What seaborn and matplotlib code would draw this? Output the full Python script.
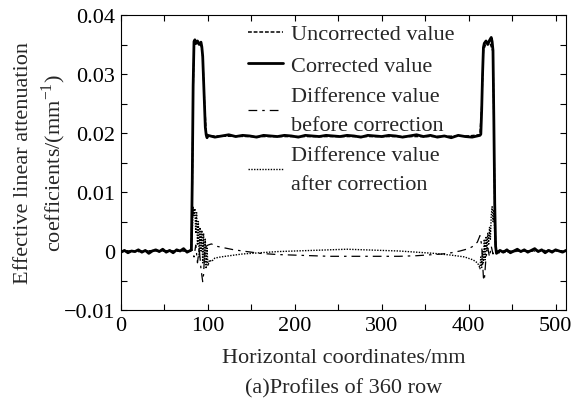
import numpy as np
import pandas as pd
import matplotlib
matplotlib.use("Agg")
import matplotlib.pyplot as plt
import seaborn as sns
from matplotlib.ticker import MultipleLocator

sns.set_style("ticks")
plt.rcParams['font.family'] = ['Liberation Serif', 'DejaVu Serif']
plt.rcParams['mathtext.fontset'] = 'custom'
plt.rcParams['mathtext.rm'] = 'Liberation Serif'

# ---------------- data ----------------
corr_x = [0, 4, 8, 12, 16, 20, 24, 28, 32, 36, 40, 44, 48, 52, 56, 60, 64, 68, 72, 76, 80,
          81, 82, 83, 84, 85, 86, 88, 90, 92, 93, 94, 95, 96, 97, 98, 99,
          100, 108, 116, 124, 132, 140, 148, 156, 164, 172, 180, 188, 196, 204, 212, 220,
          228, 236, 244, 252, 260, 268, 276, 284, 292, 300, 308, 316, 324, 332, 340, 348,
          356, 364, 372, 380, 388, 396, 404, 410,
          413, 414, 415, 416, 417, 418, 420, 422, 424, 426, 427, 428, 429, 430, 431, 432,
          436, 440, 444, 448, 452, 456, 460, 464, 468, 472, 476, 480, 484, 488, 492, 496,
          500, 504, 508, 512]
corr_y = [-0.0002, 0.0001, -0.0003, 0.0000, -0.0001, 0.0002, -0.0002, 0.0001, -0.0004, 0.0000,
          0.0002, -0.0001, 0.0003, -0.0002, 0.0001, -0.0003, 0.0002, 0.0000, 0.0004, -0.0002, 0.0001,
          0.0003, 0.0120, 0.0280, 0.0355, 0.0358, 0.0352, 0.0356, 0.0350, 0.0354, 0.0346,
          0.0330, 0.0290, 0.0250, 0.0210, 0.0197, 0.0192,
          0.0196, 0.0193, 0.0195, 0.0197, 0.0194, 0.0196, 0.0195, 0.0193, 0.0196, 0.0195,
          0.0194, 0.0196, 0.0195, 0.0193, 0.0196, 0.0195, 0.0194, 0.0196, 0.0195, 0.0194,
          0.0196, 0.0195, 0.0193, 0.0196, 0.0195, 0.0194, 0.0196, 0.0195, 0.0193, 0.0195,
          0.0197, 0.0194, 0.0196, 0.0193, 0.0195, 0.0192, 0.0196, 0.0194, 0.0193, 0.0195,
          0.0196, 0.0198, 0.0240, 0.0300, 0.0345, 0.0352, 0.0356, 0.0350, 0.0357, 0.0362,
          0.0355, 0.0340, 0.0220, 0.0080, 0.0008, -0.0004,
          0.0001, -0.0002, 0.0002, -0.0003, 0.0000, 0.0003, -0.0001, 0.0002, -0.0002, 0.0001,
          0.0004, -0.0001, 0.0002, -0.0003, 0.0001, -0.0002, 0.0002, 0.0000, -0.0002, 0.0001]

unc_x = [0, 20, 40, 60, 80, 81, 82, 83, 84, 88, 92, 94, 96, 98, 100, 150, 200, 250, 300,
         350, 400, 413, 415, 417, 420, 424, 428, 429, 430, 431, 432, 460, 490, 512]
unc_y = [0.0000, -0.0001, 0.0001, 0.0000, 0.0000, 0.0003, 0.0110, 0.0270, 0.0350, 0.0352,
         0.0350, 0.0330, 0.0255, 0.0200, 0.0195, 0.0194, 0.0194, 0.0194, 0.0194, 0.0194,
         0.0195, 0.0197, 0.0245, 0.0340, 0.0352, 0.0355, 0.0338, 0.0215, 0.0075, 0.0008,
         -0.0003, 0.0000, 0.0001, 0.0000]

dbef_x = [0, 80, 82, 84, 86, 88, 90, 92, 94, 95, 96, 98, 100, 104, 110, 120, 130, 140, 150,
          160, 180, 200, 220, 240, 260, 280, 300, 320, 340, 360, 370, 380, 390, 400, 405,
          410, 413, 415, 416, 417, 418, 419, 420, 422, 424, 426, 428, 430, 432, 512]
dbef_y = [0.0000, 0.0000, 0.0002, -0.0010, 0.0010, -0.0020, 0.0005, -0.0030, -0.0052, -0.0040,
          -0.0010, 0.0008, 0.0010, 0.0012, 0.0008, 0.0005, 0.0002, 0.0000, -0.0002, -0.0004,
          -0.0006, -0.0007, -0.0008, -0.0009, -0.0009, -0.0009, -0.0009, -0.0009, -0.0008,
          -0.0006, -0.0005, -0.0003, 0.0000, 0.0004, 0.0008, 0.0015, 0.0026, 0.0010, -0.0020,
          -0.0045, -0.0050, -0.0030, -0.0010, 0.0005, -0.0010, 0.0008, -0.0005, 0.0003, 0.0000,
          0.0000]

daft_x = [0, 80, 82, 83, 84, 85, 86, 87, 88, 89, 90, 91, 92, 93, 94, 95, 96, 97, 98, 99, 100,
          102, 104, 108, 115, 125, 140, 160, 180, 200, 220, 240, 260, 280, 300, 320, 340, 360,
          380, 395, 405, 410, 412, 413, 414, 415, 416, 417, 418, 419, 420, 421, 422, 423, 424,
          425, 426, 427, 428, 429, 430, 431, 432, 512]
daft_y = [0.0000, 0.0000, 0.0030, 0.0075, 0.0060, 0.0072, 0.0030, 0.0065, 0.0010, 0.0050,
          -0.0010, 0.0040, 0.0000, 0.0035, -0.0020, 0.0030, -0.0020, 0.0020, -0.0030, 0.0005,
          -0.0025, -0.0015, -0.0018, -0.0012, -0.0010, -0.0008, -0.0005, -0.0003, -0.0001,
          0.0000, 0.0001, 0.0002, 0.0003, 0.0002, 0.0001, 0.0000, -0.0002, -0.0004, -0.0007,
          -0.0010, -0.0015, -0.0020, -0.0025, -0.0030, -0.0010, -0.0028, 0.0000, -0.0020,
          0.0020, -0.0015, 0.0025, 0.0000, 0.0030, 0.0010, 0.0040, 0.0020, 0.0060, 0.0075,
          0.0050, 0.0070, 0.0030, 0.0010, 0.0000, 0.0000]

labels = ["Uncorrected value", "Corrected value",
          "Difference value\nbefore correction", "Difference value\nafter correction"]
x_ticks = [0, 100, 200, 300, 400, 500]
y_ticks = [-0.01, 0, 0.01, 0.02, 0.03, 0.04]
y_ticklabels = ["\u22120.01", "0", "0.01", "0.02", "0.03", "0.04"]

FS = 16

# ---------------- figure ----------------
fig = plt.figure(figsize=(5.82, 4.06), dpi=100)
ax = fig.add_axes([121/582, 1 - 311/406, (566-121)/582, (311-16)/406])

sns.lineplot(x=unc_x, y=unc_y, ax=ax, color="black", linewidth=1.1,
             linestyle=(0, (2.5, 1.2)), label=labels[0])
sns.lineplot(x=corr_x, y=corr_y, ax=ax, color="black", linewidth=2.0,
             linestyle="-", label=labels[1])
sns.lineplot(x=dbef_x, y=dbef_y, ax=ax, color="black", linewidth=0.9,
             linestyle=(0, (7, 4, 2, 4)), label=labels[2])
sns.lineplot(x=daft_x, y=daft_y, ax=ax, color="black", linewidth=1.0,
             linestyle=(0, (1, 1)), label=labels[3])

ax.set_xlim(0, 512)
ax.set_ylim(-0.01, 0.04)
ax.set_xticks(x_ticks)
ax.set_xticklabels([str(t) for t in x_ticks])
ax.set_yticks(y_ticks)
ax.set_yticklabels(y_ticklabels)
ax.xaxis.set_minor_locator(MultipleLocator(50))
ax.yaxis.set_minor_locator(MultipleLocator(0.005))
ax.tick_params(which="both", direction="in", top=True, right=True, labelsize=FS,
               length=4, width=0.8, colors="black", pad=4)
ax.tick_params(which="minor", length=4)
for s in ax.spines.values():
    s.set_linewidth(0.8)
    s.set_color("black")

ax.set_xlabel("Horizontal coordinates/mm", fontsize=FS, labelpad=10)
ax.set_ylabel("Effective linear attenuation\ncoefficients/(mm$^{-1}$)", fontsize=FS,
              labelpad=-3, linespacing=1.3)
fig.text((121+566)/2/582, 1 - 389/406, "(a)Profiles of 360 row", ha="center",
         va="center", fontsize=FS)

leg = ax.legend(loc="upper left", bbox_to_anchor=(0.285, 0.97), frameon=False,
                fontsize=FS, handlelength=1.6, handletextpad=0.35, labelspacing=0.5,
                borderaxespad=0.0, borderpad=0.0)
for t in leg.get_texts():
    t.set_linespacing(1.7)

fig.savefig("out.png", dpi=100)
